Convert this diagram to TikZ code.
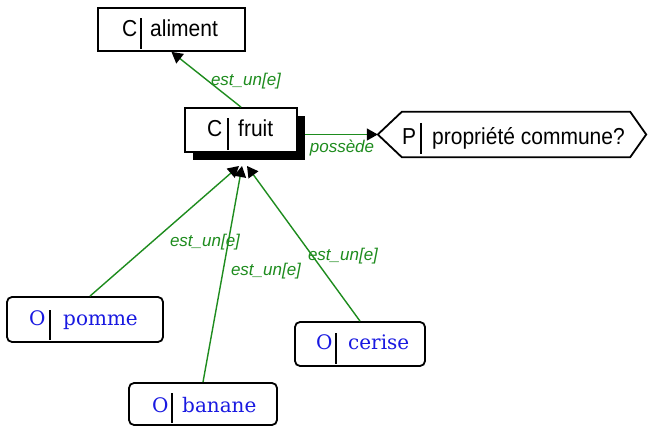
\documentclass[tikz,border=0pt]{standalone}
\usepackage{fontspec}
\setmainfont{Liberation Sans}
\newfontfamily\bluefont{DejaVu Serif}
\usetikzlibrary{arrows.meta}
\definecolor{lgreen}{RGB}{30,140,30}
\definecolor{oblue}{RGB}{25,25,225}
\begin{document}
\begin{tikzpicture}[x=1pt,y=-1pt,
  box/.style={draw=black, line width=1.8pt, fill=white, inner sep=0pt, rectangle},
  obox/.style={box, rounded corners=5pt},
  ctext/.style={font=\fontsize{21}{23}\selectfont, text=black, inner sep=0pt, anchor=base west, yscale=1.1},
  otext/.style={font=\bluefont\fontsize{20}{22}\selectfont, text=oblue, inner sep=0pt, anchor=base west},
  lab/.style={font=\itshape\fontsize{17}{19}\selectfont, text=lgreen, inner sep=0pt},
  rel/.style={draw=lgreen, line width=1.4pt, -{Triangle[length=11pt,width=12pt,black]}},
  divider/.style={draw=black, line width=1.8pt},
]
\useasboundingbox (0,0) rectangle (648,427);
\fill[white] (0,0) rectangle (648,427);

% aliment
\node[box, minimum width=147pt, minimum height=43pt] (aliment) at (171.5,29.5) {};
\draw[divider] ([xshift=44pt,yshift=-11pt]aliment.north west) -- ([xshift=44pt,yshift=3pt]aliment.south west);
\node[ctext] (alimC) at (122,37) {C};
\node[ctext] (alimT) at (150,37) {aliment};

% fruit with shadow
\node[fill=black, minimum width=112pt, minimum height=44pt, inner sep=0pt] (fruitshadow) at (249,138) {};
\node[box, minimum width=112pt, minimum height=44pt] (fruit) at (241,130) {};
\draw[divider] ([xshift=44pt,yshift=-11pt]fruit.north west) -- ([xshift=44pt,yshift=3pt]fruit.south west);
\node[ctext] (fruitC) at (207,137) {C};
\node[ctext] (fruitT) at (238,137) {fruit};

% propriete
\node[minimum width=268pt, minimum height=45pt, inner sep=0pt] (prop) at (512,134.5) {};
\draw[line width=1.8pt, fill=white] (prop.west) -- ([xshift=24pt]prop.north west) -- ([xshift=-16pt]prop.north east) -- (prop.east) -- ([xshift=-16pt]prop.south east) -- ([xshift=24pt]prop.south west) -- cycle;
\draw[divider] ([xshift=43pt,yshift=-11pt]prop.north west) -- ([xshift=43pt,yshift=3pt]prop.south west);
\node[ctext] (propP) at (402,145) {P};
\node[ctext] (propT) at (432,145) {propriété commune?};

% objects
\node[obox, minimum width=156pt, minimum height=45pt] (pomme) at (85,319.5) {};
\draw[divider] ([xshift=44pt,yshift=-14pt]pomme.north west) -- ([xshift=44pt,yshift=3pt]pomme.south west);
\node[otext] (pommeO) at (29,326) {O};
\node[otext] (pommeT) at (63,326) {pomme};

\node[obox, minimum width=148pt, minimum height=42pt] (banane) at (203,404) {};
\draw[divider] ([xshift=44pt,yshift=-11pt]banane.north west) -- ([xshift=44pt,yshift=3pt]banane.south west);
\node[otext] (bananeO) at (152,413) {O};
\node[otext] (bananeT) at (182,413) {banane};

\node[obox, minimum width=130pt, minimum height=44pt] (cerise) at (360,344) {};
\draw[divider] ([xshift=42pt,yshift=-12pt]cerise.north west) -- ([xshift=42pt,yshift=3pt]cerise.south west);
\node[otext] (ceriseO) at (316,350) {O};
\node[otext] (ceriseT) at (348,350) {cerise};

% connectors
\coordinate (inA) at (239,166);
\coordinate (inB) at (242,166);
\coordinate (inC) at (247,166);

\draw[rel] (fruit.north) -- (aliment.south);
\draw[rel] (fruitshadow.east |- prop.west) -- (prop.west);
\draw[rel] ([xshift=5pt]pomme.north) -- (inA);
\draw[rel] (banane.north) -- (inB);
\draw[rel] (cerise.north) -- (inC);

% labels
\node[lab] (l1) at (246,81) {est\_un[e]};
\node[lab] (l2) at (342,148) {possède};
\node[lab] (l3) at (205,242) {est\_un[e]};
\node[lab] (l4) at (266,271) {est\_un[e]};
\node[lab] (l5) at (343,256) {est\_un[e]};
\end{tikzpicture}
\end{document}
